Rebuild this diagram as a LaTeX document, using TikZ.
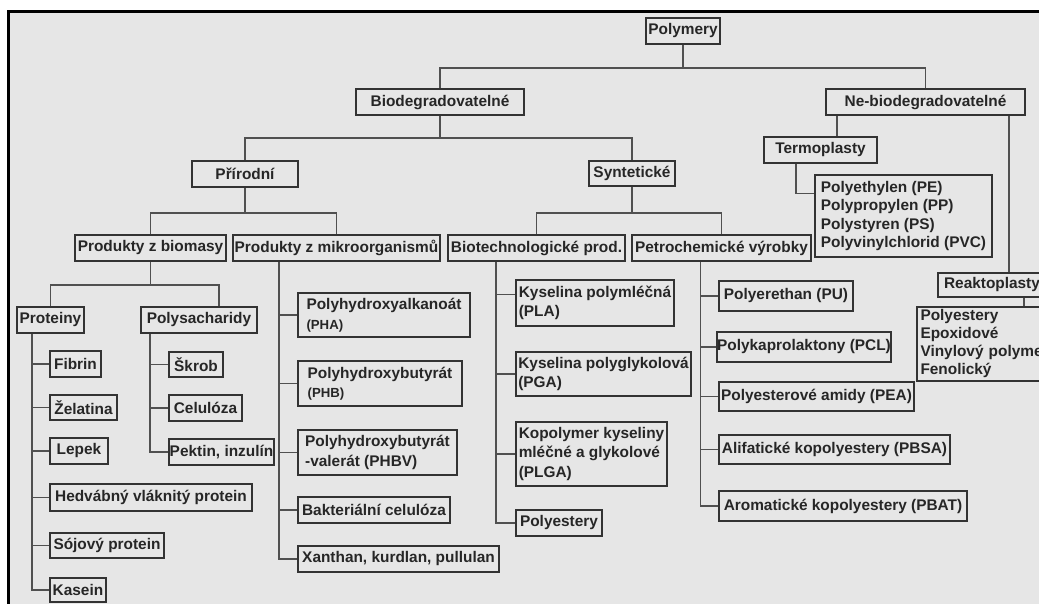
\documentclass[tikz,border=0pt]{standalone}
\usepackage{fontspec}
\setmainfont{Liberation Sans}
\usetikzlibrary{calc}
\definecolor{bg}{HTML}{E6E6E6}
\definecolor{ln}{HTML}{505050}
\definecolor{bd}{HTML}{333333}
\definecolor{tx}{HTML}{262626}
\newcommand\boxnode[7][]{%
 \pgfmathsetmacro\bw{#5-#3}\pgfmathsetmacro\bh{#6-#4}%
 \pgfmathsetmacro\bcx{(#3+#5)/2}\pgfmathsetmacro\bcy{(#4+#6)/2}%
 \node[bx,minimum width=\bw pt,minimum height=\bh pt,#1] (#2) at (\bcx,\bcy) {#7};}
\newcommand\smtxt[1]{{\fontsize{13.2}{15}\selectfont #1}}
\begin{document}
\begin{tikzpicture}[x=1pt,y=-1pt,
  bx/.style={draw=bd,line width=1.6pt,fill=bg,inner sep=0pt,text=tx,
    font=\fontsize{15.4}{18.5}\selectfont\bfseries},
  lft/.style={align=left},
  lft2/.style={align=left,font=\fontsize{15.4}{19.5}\selectfont\bfseries},
  con/.style={draw=ln,line width=1.5pt}]
\useasboundingbox (0,0) rectangle (1039,604);
\clip (0,0) rectangle (1039,604);
\fill[bg] (8,12) rectangle (1045,610);
\draw[black,line width=3pt] (8,610) -- (8,12) -- (1045,12);

% level nodes
\boxnode{poly}{646}{18}{720}{44}{Polymery}
\boxnode{bio}{356}{89}{524}{115}{Biodegradovatelné}
\boxnode{nebio}{826}{89}{1025}{115}{Ne-biodegradovatelné}
\boxnode{termo}{764}{137}{877}{163}{Termoplasty}
\boxnode[lft]{tlist}{815}{175}{992}{257}{Polyethylen (PE)\\Polypropylen (PP)\\Polystyren (PS)\\Polyvinylchlorid (PVC)}
\boxnode{reakto}{938}{273}{1046}{297}{Reaktoplasty}
\boxnode[lft,text width=146pt,font=\fontsize{15.4}{18}\selectfont\bfseries]{rlist}{917}{307}{1070}{381}{Polyestery\\Epoxidové\\Vinylový polymer\\Fenolický}
\boxnode{prir}{192}{161}{298}{187}{Přírodní}
\boxnode{synt}{589}{161}{675}{186}{Syntetické}
\boxnode{bioms}{75}{235}{226}{261}{Produkty z biomasy}
\boxnode{mikro}{233}{235}{440}{261}{Produkty z mikroorganismů}
\boxnode{biot}{448}{235}{625}{261}{Biotechnologické prod.}
\boxnode{petro}{632}{235}{811}{261}{Petrochemické výrobky}
\boxnode{prot}{17}{307}{84}{333}{Proteiny}
\boxnode{polys}{141}{307}{257}{333}{Polysacharidy}
% proteins
\boxnode{fibrin}{50}{351}{101}{377}{Fibrin}
\boxnode{zel}{50}{395}{117}{420}{Želatina}
\boxnode{lepek}{50}{438}{108}{464}{Lepek}
\boxnode{hedv}{50}{484}{252}{511}{Hedvábný vláknitý protein}
\boxnode{soj}{50}{533}{164}{558}{Sójový protein}
\boxnode{kasein}{50}{578}{106}{602}{Kasein}
% polysaccharides
\boxnode{skrob}{169}{352}{223}{377}{Škrob}
\boxnode{celul}{169}{395}{242}{421}{Celulóza}
\boxnode{pektin}{169}{439}{274}{465}{Pektin, inzulín}
% microorganisms
\boxnode[lft2]{pha}{298}{293}{470}{337}{Polyhydroxyalkanoát\\\smtxt{(PHA)}}
\boxnode[lft2]{phb}{298}{361}{462}{406}{Polyhydroxybutyrát\\\smtxt{(PHB)}}
\boxnode[lft2]{phbv}{298}{430}{457}{475}{Polyhydroxybutyrát\\-valerát (PHBV)}
\boxnode{bakt}{298}{497}{450}{523}{Bakteriální celulóza}
\boxnode{xan}{298}{546}{499}{572}{Xanthan, kurdlan, pullulan}
% biotech
\boxnode[lft2]{pla}{516}{280}{674}{326}{Kyselina polymléčná\\(PLA)}
\boxnode[lft2]{pga}{516}{352}{691}{396}{Kyselina polyglykolová\\(PGA)}
\boxnode[lft2]{plga}{516}{422}{667}{486}{Kopolymer kyseliny\\mléčné a glykolové\\(PLGA)}
\boxnode{polyest}{516}{510}{602}{536}{Polyestery}
% petrochemical
\boxnode{pu}{719}{281}{853}{311}{Polyerethan (PU)}
\boxnode{pcl}{719}{332}{889}{362}{Polykaprolaktony (PCL)}
\boxnode{pea}{719}{382}{914}{411}{Polyesterové amidy (PEA)}
\boxnode{pbsa}{719}{435}{950}{464}{Alifatické kopolyestery (PBSA)}
\boxnode{pbat}{719}{491}{967}{521}{Aromatické kopolyestery (PBAT)}

% connectors
\path (poly.south) ++(0,23) coordinate (j0);
\draw[con] (poly.south) -- (j0);
\draw[con] (bio.north) |- (j0) -| (nebio.north);
\path (bio.south) ++(0,22) coordinate (j1);
\draw[con] (bio.south) -- (j1);
\draw[con] (prir.north) |- (j1) -| (synt.north);
\path (prir.south) ++(0,25) coordinate (j2);
\draw[con] (prir.south) -- (j2);
\draw[con] (bioms.north) |- (j2) -| (mikro.north);
\path (synt.south) ++(0,26) coordinate (j3);
\draw[con] (synt.south) -- (j3);
\draw[con] (biot.north) |- (j3) -| (petro.north);
\path (bioms.south) ++(0,23) coordinate (j4);
\draw[con] (bioms.south) -- (j4);
\draw[con] (prot.north) |- (j4) -| ([xshift=20pt]polys.north);
\foreach \c in {fibrin,zel,lepek,hedv,soj,kasein}
  \draw[con] ([xshift=15.6pt]prot.south west) |- (\c.west);
\foreach \c in {skrob,celul,pektin}
  \draw[con] ([xshift=10pt]polys.south west) |- (\c.west);
\foreach \c in {pha,phb,phbv,bakt,xan}
  \draw[con] ([xshift=47pt]mikro.south west) |- (\c.west);
\draw[con] ([xshift=49pt]biot.south west) |- ([yshift=8.4pt]pla.west);
\foreach \c in {pga,plga,polyest}
  \draw[con] ([xshift=49pt]biot.south west) |- (\c.west);
\foreach \c in {pu,pcl,pea,pbsa,pbat}
  \draw[con] ([xshift=69.3pt]petro.south west) |- (\c.west);
\draw[con] ([xshift=11.7pt]nebio.south west) -- ([xshift=11.7pt]nebio.south west |- termo.north);
\draw[con] ([xshift=32.6pt]termo.south west) |- ([yshift=-19.3pt]tlist.north west);
\draw[con] ([xshift=-16.7pt]nebio.south east) -- ([xshift=-16.7pt]nebio.south east |- reakto.north);
\draw[con] ([xshift=86.7pt]reakto.south west) -- ([xshift=86.7pt]reakto.south west |- rlist.north);
\end{tikzpicture}
\end{document}
